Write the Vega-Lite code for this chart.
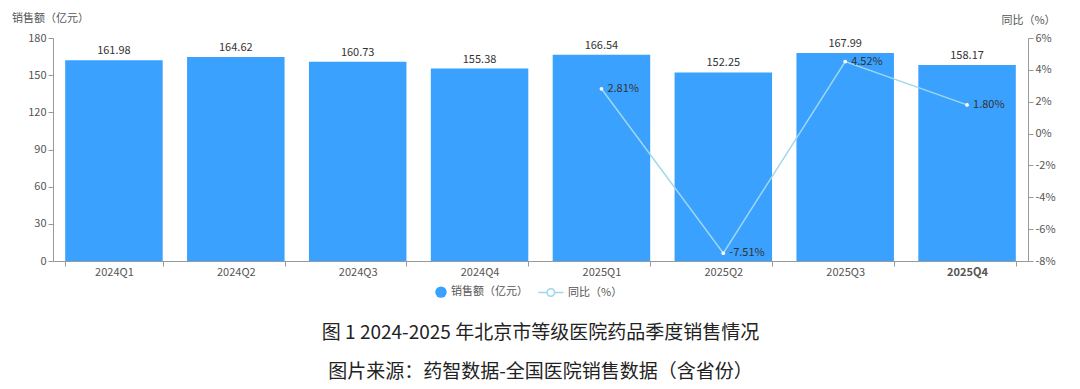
{
  "$schema": "https://vega.github.io/schema/vega-lite/v6.json",
  "width": 975,
  "height": 223,
  "autosize": {"type": "none"},
  "padding": {"left": 53, "top": 38, "right": 52, "bottom": 128},
  "background": "white",
  "config": {
    "font": "Noto Sans CJK SC",
    "view": {"stroke": null},
    "axis": {"labelFont": "Noto Sans CJK SC", "titleFont": "Noto Sans CJK SC"},
    "legend": {"labelFont": "Noto Sans CJK SC"}
  },
  "title": {
    "text": ["图 1 2024-2025 年北京市等级医院药品季度销售情况", "图片来源：药智数据-全国医院销售数据（含省份）"],
    "orient": "bottom",
    "anchor": "middle",
    "font": "Noto Sans CJK SC",
    "fontSize": 19,
    "fontWeight": "normal",
    "color": "#222222",
    "lineHeight": 39,
    "offset": 26
  },
  "data": {
    "values": [
      {"quarter": "2024Q1", "sales": 161.98, "yoy": null},
      {"quarter": "2024Q2", "sales": 164.62, "yoy": null},
      {"quarter": "2024Q3", "sales": 160.73, "yoy": null},
      {"quarter": "2024Q4", "sales": 155.38, "yoy": null},
      {"quarter": "2025Q1", "sales": 166.54, "yoy": 2.81},
      {"quarter": "2025Q2", "sales": 152.25, "yoy": -7.51},
      {"quarter": "2025Q3", "sales": 167.99, "yoy": 4.52},
      {"quarter": "2025Q4", "sales": 158.17, "yoy": 1.8}
    ]
  },
  "encoding": {
    "x": {
      "field": "quarter",
      "type": "ordinal",
      "sort": null,
      "scale": {"paddingInner": 0.2, "paddingOuter": 0.1},
      "axis": {
        "title": null,
        "labelAngle": 0,
        "labelFontSize": 11,
        "labelColor": "#555555",
        "labelFontWeight": {"condition": {"test": "datum.value === '2025Q4'", "value": "bold"}, "value": "normal"},
        "domainColor": "#999999",
        "tickColor": "#999999",
        "tickBand": "extent",
        "tickSize": 5,
        "labelPadding": 0
      }
    }
  },
  "layer": [
    {
      "encoding": {
        "y": {
          "field": "sales",
          "type": "quantitative",
          "scale": {"domain": [0, 180], "nice": false},
          "axis": {
            "title": "销售额（亿元）",
            "titleAngle": 0,
            "titleX": -3,
            "titleY": -20,
            "titleAlign": "center",
            "titleBaseline": "middle",
            "titleFontSize": 11,
            "titleFontWeight": "normal",
            "titleColor": "#555555",
            "values": [0, 30, 60, 90, 120, 150, 180],
            "grid": false,
            "labelFontSize": 11,
            "labelColor": "#555555",
            "domainColor": "#999999",
            "tickColor": "#999999",
            "tickSize": 5
          }
        }
      },
      "layer": [
        {
          "mark": {"type": "bar"},
          "encoding": {
            "color": {
              "datum": "销售额（亿元）",
              "type": "nominal",
              "scale": {"domain": ["销售额（亿元）", "同比（%）"], "range": ["#3ba1ff", "#9fd8ee"]},
              "legend": {
                "title": null,
                "orient": "none",
                "legendX": 382,
                "legendY": 248,
                "direction": "horizontal",
                "labelFontSize": 11,
                "labelColor": "#555555",
                "symbolSize": 130,
                "columnPadding": 10,
                "encode": {
                  "symbols": {
                    "update": {
                      "shape": {"signal": "datum.value === '同比（%）' ? 'M-1,-0.13L0.42,-0.13L0.42,0.13L-1,0.13Z M1.98,-0.13L3.4,-0.13L3.4,0.13L1.98,0.13Z M0.4,0A0.8,0.8,0,1,1,2,0A0.8,0.8,0,1,1,0.4,0Z M0.67,0A0.53,0.53,0,1,0,1.73,0A0.53,0.53,0,1,0,0.67,0Z' : 'circle'"},
                      "strokeWidth": {"value": 0},
                      "opacity": {"value": 1}
                    }
                  },
                  "labels": {
                    "update": {
                      "dx": {"signal": "datum.value === '同比（%）' ? 14 : 0"}
                    }
                  }
                }
              }
            }
          }
        },
        {
          "mark": {"type": "text", "baseline": "bottom", "dy": -4, "fontSize": 11, "color": "#333333"},
          "encoding": {"text": {"field": "sales", "type": "quantitative", "format": ".2f"}}
        }
      ]
    },
    {
      "transform": [
        {"filter": "isValid(datum.yoy)"},
        {"calculate": "replace(format(datum.yoy, '.2f'), '−', '-') + '%'", "as": "yoyLabel"}
      ],
      "encoding": {
        "y": {
          "field": "yoy",
          "type": "quantitative",
          "scale": {"domain": [-8, 6], "nice": false},
          "axis": {
            "orient": "right",
            "title": "同比（%）",
            "titleAngle": 0,
            "titleX": 0,
            "titleY": -18,
            "titleAlign": "center",
            "titleBaseline": "middle",
            "titleFontSize": 11,
            "titleFontWeight": "normal",
            "titleColor": "#555555",
            "values": [-8, -6, -4, -2, 0, 2, 4, 6],
            "labelExpr": "datum.value + '%'",
            "grid": false,
            "labelFontSize": 11,
            "labelColor": "#555555",
            "domainColor": "#999999",
            "tickColor": "#999999",
            "tickSize": 5
          }
        }
      },
      "layer": [
        {
          "mark": {"type": "line", "strokeWidth": 1.5},
          "encoding": {"color": {"datum": "同比（%）", "type": "nominal"}}
        },
        {
          "mark": {"type": "point", "filled": true, "color": "#ffffff", "size": 14, "opacity": 1}
        },
        {
          "mark": {"type": "text", "align": "left", "baseline": "middle", "dx": 6, "fontSize": 11, "color": "#333333"},
          "encoding": {"text": {"field": "yoyLabel", "type": "nominal"}}
        }
      ]
    }
  ],
  "resolve": {"scale": {"y": "independent"}}
}
